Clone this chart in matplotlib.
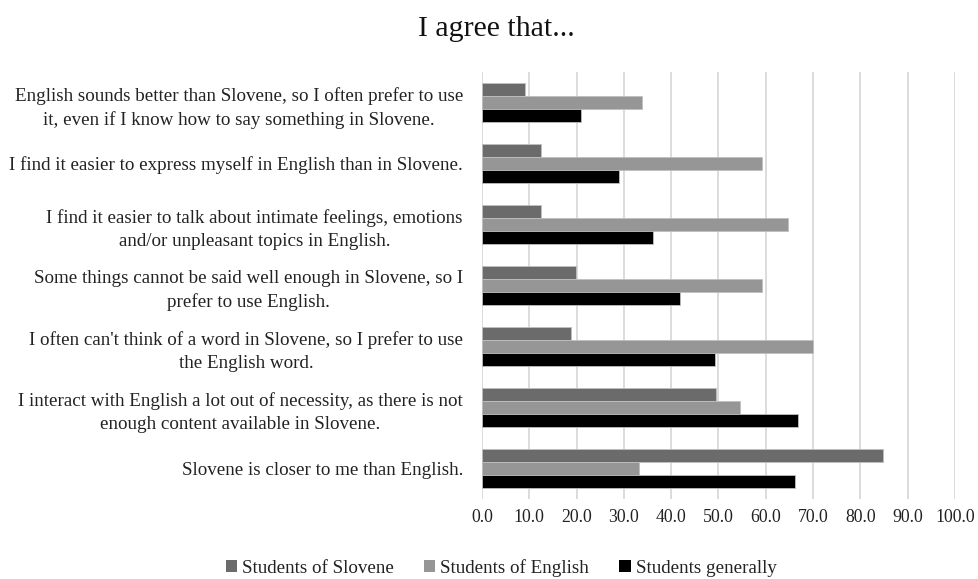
import matplotlib
matplotlib.use("Agg")
import matplotlib.pyplot as plt
import numpy as np
from matplotlib.patches import Patch

# Survey statements (top to bottom as drawn)
statements = [
    "English sounds better than Slovene, so I often prefer to use\nit, even if I know how to say something in Slovene.",
    "I find it easier to express myself in English than in Slovene.",
    "I find it easier to talk about intimate feelings, emotions\nand/or unpleasant topics in English.",
    "Some things cannot be said well enough in Slovene, so I\nprefer to use English.",
    "I often can't think of a word in Slovene, so I prefer to use\nthe English word.",
    "I interact with English a lot out of necessity, as there is not\nenough content available in Slovene.",
    "Slovene is closer to me than English.",
]

# Percentage agreeing, per group
students_of_slovene = [9.0, 12.5, 12.5, 19.8, 18.8, 49.4, 84.7]
students_of_english = [33.8, 59.2, 64.6, 59.2, 70.0, 54.6, 33.1]
students_generally = [20.9, 29.0, 36.2, 41.9, 49.2, 66.9, 66.1]

series_names = ["Students of Slovene", "Students of English", "Students generally"]
series_colors = ["#6b6b6b", "#969696", "#000000"]
x_ticks = [0, 10, 20, 30, 40, 50, 60, 70, 80, 90, 100]

font = ["Liberation Serif", "DejaVu Serif"]
plt.rcParams["font.family"] = font

fig = plt.figure(figsize=(9.79, 5.79), dpi=100)
ax = fig.add_axes([482 / 979, 1 - 499 / 579, (955 - 482) / 979, (499 - 72) / 579])

n = len(statements)
centers = np.arange(n)
bar_h = 0.21
series = [students_of_slovene, students_of_english, students_generally]
for i, (vals, color) in enumerate(zip(series, series_colors)):
    ax.barh(centers + (i - 1) * bar_h, vals, height=bar_h, color=color,
            edgecolor="#bfbfbf", linewidth=0.6, zorder=3)

ax.set_ylim(n - 0.5, -0.5)
ax.set_xlim(0, 100)
ax.set_xticks(x_ticks)
ax.set_xticklabels([f"{v:.1f}" for v in x_ticks])
ax.set_yticks(centers)
ax.set_yticklabels(statements, multialignment="center", linespacing=1.45)

ax.grid(axis="x", color="#d9d9d9", linewidth=1.3, zorder=0)
for s in ax.spines.values():
    s.set_visible(False)
ax.tick_params(axis="both", length=0, colors="#222222")
ax.tick_params(axis="y", pad=13.7, labelsize=13.7)
ax.tick_params(axis="x", pad=7.5, labelsize=12.8)

fig.text(496 / 979, 1 - 29 / 579, "I agree that...", ha="center", va="center",
         fontsize=21.5, color="#111111")

handles = [Patch(facecolor=c, edgecolor="none") for c in series_colors]
fig.legend(handles, series_names, loc="center", bbox_to_anchor=(501 / 979, 1 - 568 / 579),
           ncol=3, frameon=False, fontsize=13.7, handlelength=0.6, handleheight=0.6,
           handletextpad=0.25, columnspacing=1.6, labelcolor="#222222")

fig.savefig("out.png", dpi=100, facecolor="white")
